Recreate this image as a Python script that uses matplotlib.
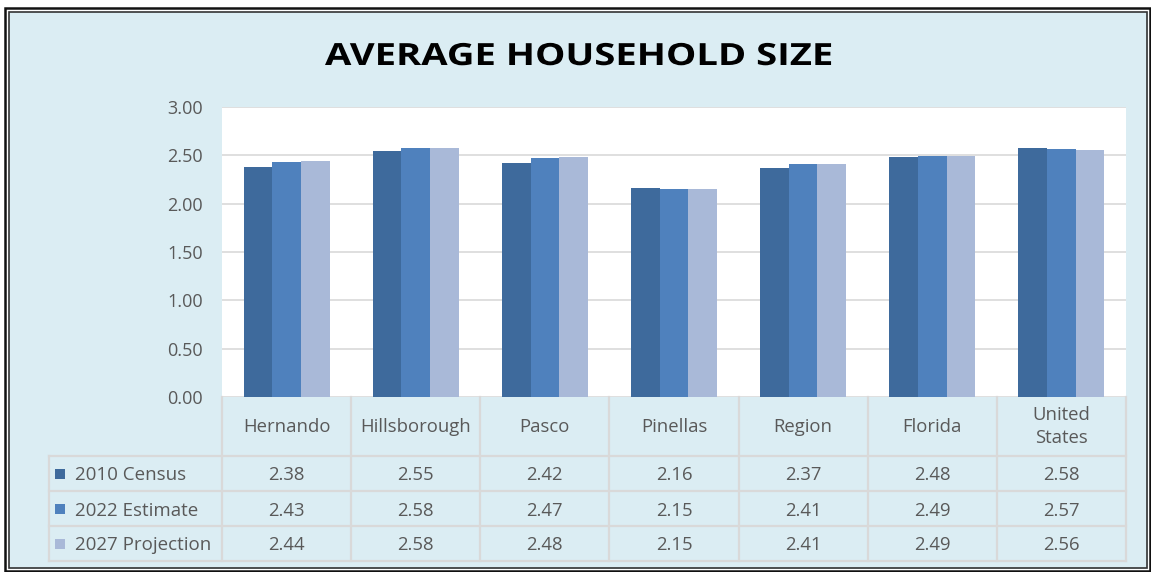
import matplotlib
matplotlib.use("Agg")
import matplotlib.pyplot as plt
from matplotlib.patches import Rectangle
from matplotlib.patheffects import AbstractPathEffect
import matplotlib.transforms as mtransforms
import numpy as np

categories = ["Hernando", "Hillsborough", "Pasco", "Pinellas", "Region", "Florida", "United\nStates"]
series_names = ["2010 Census", "2022 Estimate", "2027 Projection"]
census_2010 = [2.38, 2.55, 2.42, 2.16, 2.37, 2.48, 2.58]
estimate_2022 = [2.43, 2.58, 2.47, 2.15, 2.41, 2.49, 2.57]
projection_2027 = [2.44, 2.58, 2.48, 2.15, 2.41, 2.49, 2.56]
yticks = [0.0, 0.5, 1.0, 1.5, 2.0, 2.5, 3.0]
title = "AVERAGE HOUSEHOLD SIZE"

series = [census_2010, estimate_2022, projection_2027]
colors = ["#3E6A9C", "#4F81BD", "#A9B9D8"]
bg = "#DBEDF3"
grid_c = "#D9D9D9"
txt_c = "#595959"

plt.rcParams['font.family'] = ['Open Sans', 'DejaVu Sans']

W, H = 1151, 572
fig = plt.figure(figsize=(W / 100, H / 100), dpi=100)
fig.patch.set_facecolor("white")


class Stretch(AbstractPathEffect):
    """Widen text horizontally about its anchor (to mimic letter spacing)."""
    def __init__(self, sx):
        super().__init__()
        self.sx = sx

    def draw_path(self, renderer, gc, tpath, affine, rgbFace=None):
        renderer.draw_path(gc, tpath, mtransforms.Affine2D().scale(self.sx, 1.0) + affine, rgbFace)


def px(x0, y0, x1, y1):
    return (x0 / W, 1 - y1 / H, (x1 - x0) / W, (y1 - y0) / H)

# background and double frame
l, b, w, h = px(9, 12, 1148, 569)
fig.patches.append(Rectangle((l, b), w, h, transform=fig.transFigure,
                             facecolor=bg, edgecolor="none", zorder=-5))
l, b, w, h = px(5, 8, 1150, 571)
fig.patches.append(Rectangle((l, b), w, h, transform=fig.transFigure,
                             facecolor="none", edgecolor="#111111", lw=1.8, zorder=-4))
l, b, w, h = px(9, 12, 1147, 568)
fig.patches.append(Rectangle((l, b), w, h, transform=fig.transFigure,
                             facecolor="none", edgecolor="#333333", lw=1.2, zorder=-4))

ax = fig.add_axes(px(222, 107, 1126, 397))
ax.set_facecolor("white")
n = len(categories)
x = np.arange(n)
bw = 0.222
for i, (vals, col) in enumerate(zip(series, colors)):
    ax.bar(x + (i - 1) * bw, vals, width=bw, color=col, edgecolor="none", zorder=3)

ax.set_xlim(-0.5, n - 0.5)
ax.set_ylim(0, 3.0)
ax.set_yticks(yticks)
ax.set_yticklabels([f"{v:.2f}" for v in yticks], fontsize=13, color=txt_c)
ax.tick_params(axis="y", length=0, pad=14)
ax.set_xticks([])
for s in ax.spines.values():
    s.set_visible(False)
for v in yticks:
    ax.axhline(v, color=grid_c, lw=1.2, zorder=1)

# data table
trans = mtransforms.blended_transform_factory(ax.transData, ax.transAxes)
plot_h = 290.0
def yax(ypx):
    return (397 - ypx) / plot_h

unit_px = (1126 - 222) / n
left_x = -0.5 - (222 - 49) / unit_px
rows_y = [456, 491, 526, 561]

line_kw = dict(color=grid_c, lw=1.6, clip_on=False, transform=trans, zorder=2)
for k in range(n + 1):
    xx = -0.5 + k
    ax.plot([xx, xx], [yax(397), yax(561)], **line_kw)
ax.plot([left_x, left_x], [yax(456), yax(561)], **line_kw)
for ry in rows_y:
    ax.plot([left_x, n - 0.5], [yax(ry), yax(ry)], **line_kw)

for k, c in enumerate(categories):
    ax.text(k, yax(426.5), c, transform=trans, ha="center", va="center",
            fontsize=13.3, color=txt_c, linespacing=1.35, clip_on=False)

for r, (name, vals, col) in enumerate(zip(series_names, series, colors)):
    yc = (rows_y[r] + rows_y[r + 1]) / 2
    mx = left_x + (55 - 49) / unit_px
    ax.add_patch(Rectangle((mx, yax(yc + 5)), 10 / unit_px, 10 / plot_h,
                           transform=trans, facecolor=col, edgecolor="none",
                           clip_on=False))
    ax.text(left_x + (75 - 49) / unit_px, yax(yc), name, transform=trans,
            ha="left", va="center_baseline", fontsize=13.5, color=txt_c, clip_on=False)
    for k, v in enumerate(vals):
        ax.text(k, yax(yc), f"{v:.2f}", transform=trans, ha="center", va="center_baseline",
                fontsize=13.3, color=txt_c, clip_on=False)

fig.text(325 / W, 1 - 65 / H, title, ha="left", va="baseline",
         fontsize=22, fontweight="bold", color="black",
         path_effects=[Stretch(1.25)])

fig.savefig("out.png", dpi=100, facecolor=fig.get_facecolor())
